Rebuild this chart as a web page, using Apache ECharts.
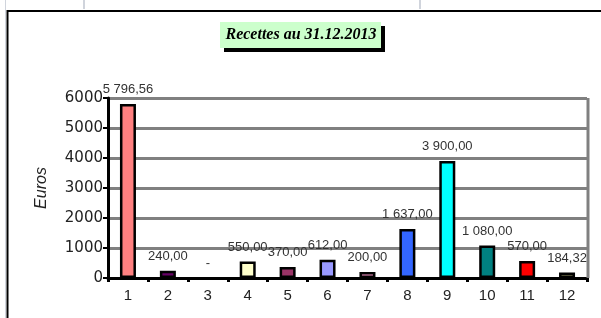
<!DOCTYPE html>
<html><head><meta charset="utf-8">
<script src="https://cdn.jsdelivr.net/npm/echarts@6/dist/echarts.min.js"></script>
<style>html,body{margin:0;padding:0;background:#fff}#c{width:601px;height:318px}</style>
</head><body><div id="c"></div>
<script>
const categories = ['1','2','3','4','5','6','7','8','9','10','11','12'];
const values = [5796.56, 240, 0, 550, 370, 612, 200, 1637, 3900, 1080, 570, 184.32];
const barColors = ['#FF8080','#660066','#FFFFFF','#FFFFCC','#993366','#9999FF','#FF99CC','#3366FF','#00FFFF','#008080','#FF0000','#999966'];
const yTicks = [0,1000,2000,3000,4000,5000,6000];
const titleText = 'Recettes au 31.12.2013';
const yName = 'Euros';

function fmt(v){
  if (v === 0) return '-';
  const parts = v.toFixed(2).split('.');
  const ip = parts[0].replace(/\B(?=(\d{3})+(?!\d))/g, ' ');
  return ip + ',' + parts[1];
}

const chart = echarts.init(document.getElementById('c'), null, {renderer:'canvas'});
chart.setOption({
  animation:false,
  backgroundColor:'#fff',
  grid:{left:108, right:14, top:98, bottom:40, containLabel:false},
  xAxis:{
    type:'category', data:categories,
    axisLine:{lineStyle:{color:'#000', width:3}},
    axisTick:{show:true, length:4, lineStyle:{color:'#000', width:3}},
    axisLabel:{color:'#222', fontFamily:'Liberation Sans, Arial', fontSize:15, margin:10},
    splitLine:{show:false}
  },
  yAxis:{
    type:'value', min:0, max:6000, interval:1000,
    name:yName, nameLocation:'middle', nameGap:58, nameRotate:90,
    nameTextStyle:{fontStyle:'italic', fontSize:16, color:'#222', fontFamily:'Liberation Sans, Arial'},
    axisLine:{show:true, lineStyle:{color:'#000', width:3}},
    axisTick:{show:true, length:5, lineStyle:{color:'#000', width:2}},
    axisLabel:{color:'#222', fontFamily:'DejaVu Sans', fontSize:15, margin:5,
      formatter:function(v){return yTicks.indexOf(v)>=0? String(v):'';}},
    splitLine:{show:true, lineStyle:{color:'#808080', width:3}}
  },
  series:[{
    type:'bar', barWidth:16,
    data: values.map((v,i)=>({value:v, itemStyle: v===0 ? {color:'rgba(0,0,0,0)', borderWidth:0} : {color:barColors[i]}})),
    itemStyle:{borderColor:'#000', borderWidth:2.5},
    label:{show:true, position:'top', distance:8, color:'#333', fontSize:13,
      fontFamily:'Liberation Sans, Arial',
      formatter:function(p){return fmt(p.value);}}
  }],
  graphic:[
    {type:'line', shape:{x1:5.5,y1:0,x2:5.5,y2:318}, style:{stroke:'#d0d4dc', lineWidth:1}, silent:true},
    {type:'line', shape:{x1:84,y1:0,x2:84,y2:9}, style:{stroke:'#d0d4dc', lineWidth:2}, silent:true},
    {type:'line', shape:{x1:420,y1:0,x2:420,y2:9}, style:{stroke:'#d0d4dc', lineWidth:2}, silent:true},
    {type:'polyline', shape:{points:[[7.5,318],[7.5,11],[601,11]]}, style:{stroke:'#000', lineWidth:2, fill:null}, silent:true},
    {type:'line', shape:{x1:588,y1:98,x2:588,y2:278}, style:{stroke:'#808080', lineWidth:3}, z:1, silent:true},
    {type:'rect', shape:{x:224,y:26,width:161,height:26}, style:{fill:'#000'}, silent:true},
    {type:'rect', shape:{x:220,y:22,width:161,height:26}, style:{fill:'#CCFFCC'}, silent:true},
    {type:'text', x:301, y:35, style:{text:titleText, fill:'#000', font:'italic bold 16px "Liberation Serif", serif', align:'center', verticalAlign:'middle'}, silent:true}
  ]
});
</script></body></html>
